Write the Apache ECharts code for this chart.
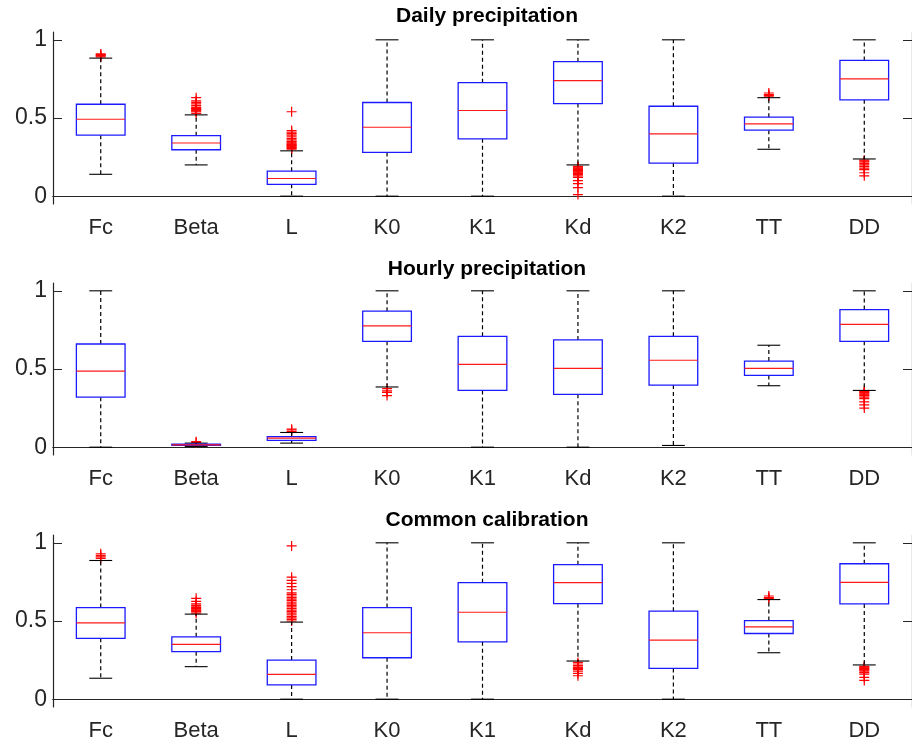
<!DOCTYPE html>
<html>
<head>
<meta charset="utf-8">
<script src="https://cdn.jsdelivr.net/npm/echarts@6/dist/echarts.min.js"></script>
<style>
html,body{margin:0;padding:0;background:#fff;}
#main{width:912px;height:748px;}
</style>
</head>
<body>
<div id="main"></div>
<script>
const categories = ['Fc','Beta','L','K0','K1','Kd','K2','TT','DD'];
const panelTitles = ['Daily precipitation','Hourly precipitation','Common calibration'];
const yTicks = [0, 0.5, 1];

// [lower whisker, Q1, median, Q3, upper whisker] per category
const dailyStats = [
  [0.14, 0.39, 0.492, 0.588, 0.883],
  [0.20, 0.297, 0.34, 0.387, 0.52],
  [0, 0.076, 0.113, 0.16, 0.29],
  [0, 0.28, 0.441, 0.599, 1],
  [0, 0.367, 0.548, 0.726, 1],
  [0.2, 0.592, 0.739, 0.86, 1],
  [0, 0.212, 0.399, 0.575, 1],
  [0.30, 0.422, 0.463, 0.505, 0.63],
  [0.238, 0.616, 0.75, 0.868, 1]
];
const hourlyStats = [
  [0, 0.32, 0.487, 0.66, 1],
  [0.005, 0.011, 0.015, 0.019, 0.026],
  [0.026, 0.043, 0.058, 0.068, 0.094],
  [0.385, 0.677, 0.776, 0.87, 1],
  [0, 0.363, 0.53, 0.709, 1],
  [0, 0.338, 0.504, 0.686, 1],
  [0.011, 0.397, 0.556, 0.709, 1],
  [0.393, 0.459, 0.504, 0.551, 0.652],
  [0.363, 0.677, 0.786, 0.88, 1]
];
const commonStats = [
  [0.134, 0.389, 0.488, 0.586, 0.887],
  [0.208, 0.304, 0.35, 0.399, 0.544],
  [0, 0.091, 0.159, 0.25, 0.493],
  [0, 0.265, 0.425, 0.586, 1],
  [0, 0.367, 0.556, 0.745, 1],
  [0.244, 0.611, 0.745, 0.86, 1],
  [0, 0.197, 0.378, 0.563, 1],
  [0.297, 0.42, 0.463, 0.503, 0.637],
  [0.219, 0.609, 0.747, 0.866, 1]
];

// outliers per category
const dailyOutliers = [
  [0.89, 0.895, 0.90, 0.905, 0.91],
  [0.53, 0.54, 0.545, 0.55, 0.555, 0.56, 0.565, 0.57, 0.58, 0.59, 0.60, 0.61, 0.63],
  [0.30, 0.305, 0.31, 0.315, 0.32, 0.325, 0.33, 0.335, 0.34, 0.345, 0.35, 0.36, 0.37, 0.38, 0.39, 0.40, 0.41, 0.42, 0.54],
  [],
  [],
  [0.19, 0.185, 0.18, 0.175, 0.17, 0.165, 0.16, 0.155, 0.15, 0.145, 0.14, 0.13, 0.12, 0.10, 0.08, 0.055, 0.01],
  [],
  [0.64, 0.645, 0.65, 0.66],
  [0.23, 0.225, 0.22, 0.21, 0.2, 0.19, 0.18, 0.17, 0.15, 0.13]
];
const hourlyOutliers = [
  [],
  [0.03, 0.035],
  [0.10, 0.11, 0.115],
  [0.375, 0.36, 0.35, 0.33],
  [],
  [],
  [],
  [],
  [0.36, 0.355, 0.35, 0.345, 0.34, 0.335, 0.33, 0.32, 0.31, 0.29, 0.27, 0.25]
];
const commonOutliers = [
  [0.90, 0.91, 0.92, 0.93],
  [0.55, 0.56, 0.565, 0.57, 0.575, 0.58, 0.585, 0.59, 0.60, 0.61, 0.625, 0.645],
  [0.98, 0.78, 0.76, 0.74, 0.72, 0.70, 0.68, 0.67, 0.66, 0.65, 0.64, 0.63, 0.62, 0.61, 0.60, 0.59, 0.58, 0.57, 0.56, 0.55, 0.54, 0.53, 0.52, 0.51, 0.50],
  [],
  [],
  [0.235, 0.225, 0.215, 0.205, 0.2, 0.195, 0.19, 0.18, 0.165, 0.15],
  [],
  [0.645, 0.65, 0.66],
  [0.21, 0.205, 0.2, 0.195, 0.19, 0.185, 0.18, 0.17, 0.16, 0.14, 0.12]
];

const allStats = [dailyStats, hourlyStats, commonStats];
const allOutliers = [dailyOutliers, hourlyOutliers, commonOutliers];

const gridTops = [32, 283, 535];
const titleTops = [6, 259, 510];
const gridHeight = 172;
const FONT = '"Liberation Sans", Arial, Helvetica, sans-serif';
const AXIS_COLOR = '#262626';

function renderBox(params, api) {
  const x = api.value(0);
  const pLo = api.coord([x, api.value(1)]);
  const pQ1 = api.coord([x, api.value(2)]);
  const pMed = api.coord([x, api.value(3)]);
  const pQ3 = api.coord([x, api.value(4)]);
  const pHi = api.coord([x, api.value(5)]);
  const bw = api.size([1, 0])[0];
  const cx = pMed[0];
  const bh = bw * 0.255;
  const ch = bw * 0.12;
  const dash = {stroke: '#000', lineWidth: 1.2, lineDash: [4, 3], fill: null};
  const cap = {stroke: '#000', lineWidth: 1.1, fill: null};
  return {
    type: 'group',
    children: [
      {type: 'line', shape: {x1: cx, y1: pQ3[1], x2: cx, y2: pHi[1]}, style: dash},
      {type: 'line', shape: {x1: cx, y1: pQ1[1], x2: cx, y2: pLo[1]}, style: dash},
      {type: 'line', shape: {x1: cx - ch, y1: pHi[1], x2: cx + ch, y2: pHi[1]}, style: cap},
      {type: 'line', shape: {x1: cx - ch, y1: pLo[1], x2: cx + ch, y2: pLo[1]}, style: cap},
      {type: 'rect', shape: {x: cx - bh, y: pQ3[1], width: 2 * bh, height: pQ1[1] - pQ3[1]},
        style: {fill: null, stroke: '#1a1aff', lineWidth: 1.3}},
      {type: 'line', shape: {x1: cx - bh, y1: pMed[1], x2: cx + bh, y2: pMed[1]},
        style: {stroke: '#ff1a1a', lineWidth: 1.2, fill: null}}
    ]
  };
}

const grids = [], xAxes = [], yAxes = [], series = [], titles = [];
for (let i = 0; i < 3; i++) {
  grids.push({left: 53, right: -8, top: gridTops[i], height: gridHeight});
  titles.push({
    text: panelTitles[i], left: 487, top: titleTops[i], textAlign: 'center', padding: 0,
    textStyle: {fontFamily: FONT, fontSize: 21, fontWeight: 'bold', color: '#000'}
  });
  xAxes.push({
    type: 'category', data: categories, gridIndex: i, position: 'bottom',
    axisLine: {lineStyle: {color: AXIS_COLOR, width: 1.2}},
    axisTick: {inside: true, alignWithLabel: true, length: 8, lineStyle: {color: AXIS_COLOR}},
    axisLabel: {fontFamily: FONT, fontSize: 22, color: AXIS_COLOR, margin: 13},
    splitLine: {show: false}
  });
  xAxes.push({
    type: 'category', data: categories, gridIndex: i, position: 'top',
    axisLine: {lineStyle: {color: AXIS_COLOR, width: 1.2}},
    axisTick: {inside: true, alignWithLabel: true, length: 8, lineStyle: {color: AXIS_COLOR}},
    axisLabel: {show: false},
    splitLine: {show: false}
  });
  yAxes.push({
    type: 'value', gridIndex: i, position: 'left', min: -0.05, max: 1.05,
    axisLine: {show: true, lineStyle: {color: AXIS_COLOR, width: 1.2}},
    axisTick: {show: true, inside: true, length: 9, customValues: yTicks, lineStyle: {color: AXIS_COLOR}},
    axisLabel: {customValues: yTicks, fontFamily: FONT, fontSize: 23, color: AXIS_COLOR, margin: 6},
    splitLine: {show: false}
  });
  yAxes.push({
    type: 'value', gridIndex: i, position: 'right', min: -0.05, max: 1.05,
    axisLine: {show: true, lineStyle: {color: AXIS_COLOR, width: 1.2}},
    axisTick: {show: true, inside: true, length: 9, customValues: yTicks, lineStyle: {color: AXIS_COLOR}},
    axisLabel: {show: false},
    splitLine: {show: false}
  });
  const stats = allStats[i];
  const outs = allOutliers[i];
  const scatterData = [];
  outs.forEach((arr, ci) => arr.forEach(v => scatterData.push([ci, v])));
  series.push({
    type: 'scatter', xAxisIndex: 2 * i, yAxisIndex: 2 * i, z: 2,
    symbol: 'path://M4.4,0H5.6V10H4.4Z M0,4.4H10V5.6H0Z', symbolSize: 10,
    itemStyle: {color: '#ff0000', opacity: 1},
    silent: true, animation: false,
    data: scatterData
  });
  series.push({
    type: 'custom', xAxisIndex: 2 * i, yAxisIndex: 2 * i, z: 3,
    renderItem: renderBox, animation: false, silent: true,
    encode: {x: 0, y: [1, 2, 3, 4, 5]},
    data: stats.map((s, ci) => [ci].concat(s))
  });
}

const chart = echarts.init(document.getElementById('main'), null, {renderer: 'canvas'});
chart.setOption({
  backgroundColor: '#ffffff',
  animation: false,
  title: titles,
  grid: grids,
  xAxis: xAxes,
  yAxis: yAxes,
  series: series
});
</script>
</body>
</html>
